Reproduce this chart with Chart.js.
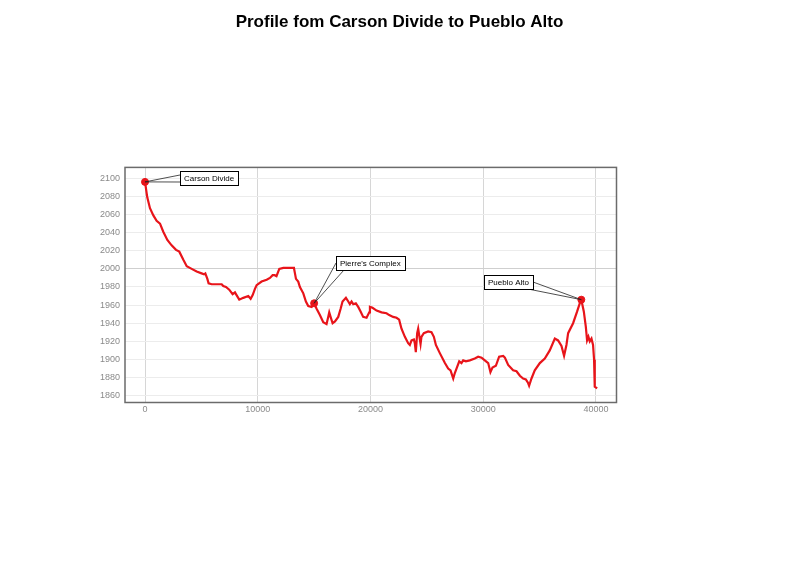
<!DOCTYPE html>
<html lang="en">
<head>
    <meta charset="UTF-8">
    <title>Profile fom Carson Divide to Pueblo Alto</title>
    <script src="https://cdn.jsdelivr.net/npm/chart.js"></script>
    <style>
        html, body { margin: 0; padding: 0; background: #fff; }
        #profile { display: block; }
    </style>
</head>
<body>
    <canvas id="profile" width="799" height="565"></canvas>

    <script>
        // distance along the route (m) and elevation (m)
        const distance = [
            0, 200, 440, 740, 1030, 1330, 1620, 1980, 2360, 2750, 3040, 3400, 3700, 4140, 4580, 5020,
            5230, 5350, 5530, 5640, 5910, 6350, 6800, 6940, 7180, 7470, 7770, 7980, 8120, 8360, 8720,
            9160, 9370, 9550, 9750, 9900, 10340, 10790, 11080, 11320, 11500, 11660, 11910, 12270, 13210,
            13300, 13390, 13590, 13740, 14040, 14270, 14480, 14780, 15000, 15220, 15510, 15810, 16100,
            16250, 16340, 16460, 16640, 16850, 17140, 17350, 17520, 17820, 18030, 18170, 18320, 18470,
            18700, 18910, 19120, 19350, 19650, 19890, 19950, 20180, 20540, 20980, 21420, 21660, 22010,
            22310, 22540, 22750, 23050, 23340, 23490, 23640, 23850, 23930, 24020, 24140, 24230, 24440,
            24520, 24730, 25110, 25410, 25620, 25800, 26150, 26600, 26890, 27100, 27340, 27480, 27630,
            27870, 28070, 28220, 28460, 28810, 29250, 29550, 29850, 30140, 30440, 30640, 30820, 31120,
            31410, 31770, 31920, 32210, 32650, 32950, 33250, 33540, 33780, 33980, 34070, 34280, 34570,
            35020, 35460, 35900, 36350, 36640, 36940, 37170, 37380, 37530, 37970, 38330, 38560, 38700,
            38920, 39100, 39210, 39330, 39450, 39600, 39740, 39830, 39890, 40100
        ];
        const elevation = [
            2096, 2079, 2067, 2059, 2053, 2050, 2041, 2032, 2026, 2021, 2019, 2010, 2003, 2000, 1997, 1995,
            1994, 1995, 1989, 1984, 1983, 1983, 1983, 1981, 1980, 1977, 1972, 1974, 1971, 1966, 1968,
            1970, 1967, 1971, 1978, 1982, 1986, 1988, 1990, 1993, 1993, 1992, 2000, 2001, 2001,
            1995, 1989, 1986, 1980, 1973, 1964, 1959, 1958, 1962, 1956, 1949, 1941, 1939,
            1947, 1952, 1947, 1940, 1942, 1947, 1956, 1964, 1968, 1964, 1961, 1964, 1961,
            1962, 1958, 1953, 1947, 1946, 1952, 1958, 1957, 1954, 1952, 1951, 1949, 1947,
            1946, 1944, 1934, 1925, 1918, 1916, 1921, 1922, 1918, 1908, 1929, 1934, 1917,
            1925, 1929, 1931, 1930, 1925, 1916, 1907, 1896, 1890, 1888, 1879, 1885, 1890,
            1898, 1896, 1899, 1898, 1899, 1901, 1903, 1902, 1899, 1896, 1886, 1891, 1893,
            1903, 1904, 1902, 1894, 1888, 1887, 1882, 1879, 1878, 1874, 1871, 1879, 1888,
            1896, 1901, 1910, 1923, 1921, 1915, 1904, 1916, 1929, 1940, 1953, 1962, 1966,
            1953, 1936, 1921, 1925, 1920, 1923, 1916, 1900, 1870, 1868
        ];

        // labelled places
        const placeNames = ["Carson Divide", "Pierre's Complex", "Pueblo Alto"];
        const placeDistance = [0, 15000, 38700];
        const placeElevation = [2096, 1962, 1966];

        // axis ticks
        const xTicks = [0, 10000, 20000, 30000, 40000];
        const yTicks = [1860, 1880, 1900, 1920, 1940, 1960, 1980, 2000, 2020, 2040, 2060, 2080, 2100];

        // where each label box sits relative to its point, and where the pointer meets the box
        // anchors: [edge (0 = box left, 1 = box right), x offset, y offset from box top]
        const calloutLayout = [
            { dx: 35, dy: -11, alignRight: false, anchors: [[0, 0, 4], [0, 0, 11]] },
            { dx: 22, dy: -47, alignRight: false, anchors: [[0, 0, 7], [0, 8, 14]] },
            { dx: -48, dy: -25, alignRight: true, anchors: [[1, 0, 7], [1, -5, 14]] }
        ];

        const tickFont = { family: '"Liberation Sans", Arial, sans-serif', size: 9 };

        // dark frame round the plot area
        const plotFrame = {
            id: 'plotFrame',
            afterDatasetsDraw(chart) {
                const { ctx, chartArea: a } = chart;
                ctx.save();
                ctx.strokeStyle = '#6b6b6b';
                ctx.lineWidth = 1.5;
                ctx.strokeRect(a.left, a.top, a.right - a.left, a.bottom - a.top);
                ctx.restore();
            }
        };

        // boxed labels with a wedge pointer down to the point
        const callouts = {
            id: 'callouts',
            afterDatasetsDraw(chart) {
                const { ctx, scales: { x, y } } = chart;
                ctx.save();
                ctx.font = '8px "Liberation Sans", Arial, sans-serif';
                placeNames.forEach((name, i) => {
                    const px = x.getPixelForValue(placeDistance[i]);
                    const py = y.getPixelForValue(placeElevation[i]);
                    const s = calloutLayout[i];
                    const w = Math.round(ctx.measureText(name).width) + 8;
                    const h = 14;
                    const left = Math.round(s.alignRight ? px + s.dx - w : px + s.dx);
                    const top = Math.round(py + s.dy);
                    const pts = s.anchors.map(([edge, ox, oy]) => [left + edge * w + ox, top + oy]);

                    ctx.strokeStyle = '#222';
                    ctx.lineWidth = 0.8;
                    ctx.beginPath();
                    ctx.moveTo(pts[0][0], pts[0][1]);
                    ctx.lineTo(px, py);
                    ctx.lineTo(pts[1][0], pts[1][1]);
                    ctx.stroke();

                    ctx.fillStyle = '#fff';
                    ctx.fillRect(left, top, w, h);
                    ctx.lineWidth = 1;
                    ctx.strokeStyle = '#000';
                    ctx.strokeRect(left + 0.5, top + 0.5, w, h);

                    ctx.fillStyle = '#000';
                    ctx.textBaseline = 'middle';
                    ctx.fillText(name, left + 4, top + h / 2 + 1);
                });
                ctx.restore();
            }
        };

        new Chart(document.getElementById('profile'), {
            type: 'line',
            data: {
                datasets: [
                    {
                        label: 'Places',
                        data: placeDistance.map((d, i) => ({ x: d, y: placeElevation[i] })),
                        showLine: false,
                        pointRadius: 3.5,
                        pointBackgroundColor: '#e8141a',
                        pointBorderColor: '#e8141a',
                        order: 0
                    },
                    {
                        label: 'Elevation',
                        data: distance.map((d, i) => ({ x: d, y: elevation[i] })),
                        borderColor: '#e8141a',
                        borderWidth: 2.2,
                        pointRadius: 0,
                        tension: 0,
                        fill: false,
                        order: 1
                    }
                ]
            },
            options: {
                responsive: false,
                animation: false,
                layout: { padding: { left: 0, right: 0, bottom: 142.5, top: 0 } },
                plugins: {
                    legend: { display: false },
                    tooltip: { enabled: false },
                    title: {
                        display: true,
                        text: 'Profile fom Carson Divide to Pueblo Alto',
                        color: '#000',
                        font: { family: '"Liberation Sans", Arial, sans-serif', size: 17, weight: 'bold', lineHeight: 1.2 },
                        padding: { top: 12, bottom: 135 }
                    }
                },
                scales: {
                    x: {
                        type: 'linear',
                        min: -1775,
                        max: 41820,
                        afterFit: s => { s.height = 20; },
                        afterBuildTicks: s => { s.ticks = xTicks.map(v => ({ value: v })); },
                        border: { display: false },
                        grid: { color: '#d6d6d6', drawTicks: false, lineWidth: 1 },
                        ticks: { color: '#8a8a8a', font: tickFont, padding: 2, maxRotation: 0, callback: v => String(v) }
                    },
                    y: {
                        type: 'linear',
                        min: 1852.5,
                        max: 2112,
                        afterFit: s => { s.width = 125; },
                        afterBuildTicks: s => { s.ticks = yTicks.map(v => ({ value: v })); },
                        border: { display: false },
                        grid: {
                            drawTicks: false,
                            lineWidth: 1,
                            color: c => (c.tick && c.tick.value === 2000) ? '#cfcfcf' : '#ececec'
                        },
                        ticks: { color: '#8a8a8a', font: tickFont, padding: 5, callback: v => String(v) }
                    },
                    // empty axis on the right, only there to keep the blank space right of the plot
                    spacer: {
                        type: 'linear',
                        position: 'right',
                        afterFit: s => { s.width = 182.5; },
                        border: { display: false },
                        grid: { display: false },
                        ticks: { display: false }
                    }
                }
            },
            plugins: [plotFrame, callouts]
        });
    </script>
</body>
</html>
